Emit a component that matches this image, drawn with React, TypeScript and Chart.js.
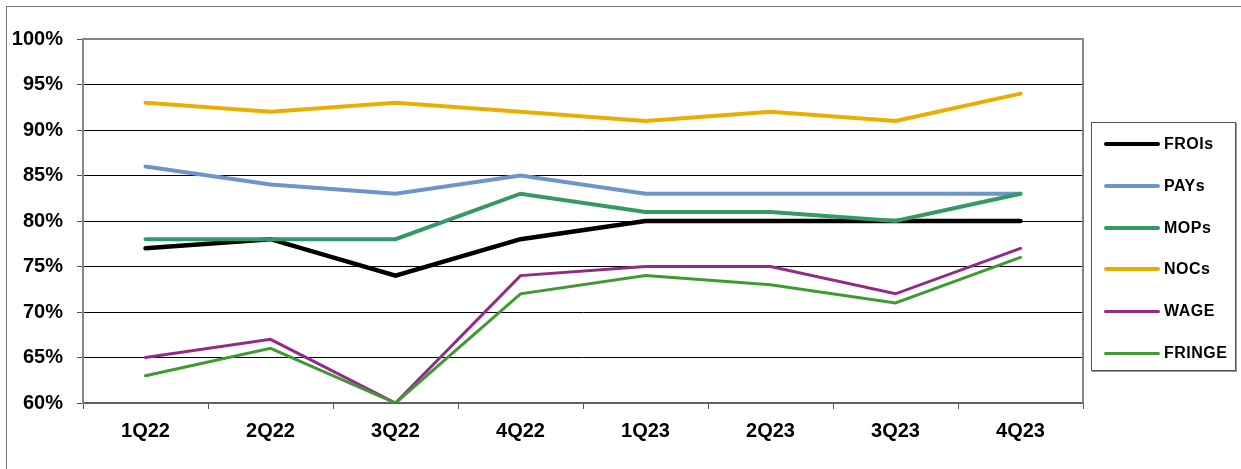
import React, { useEffect, useRef } from "react";
import { Chart, registerables } from "chart.js";

Chart.register(...registerables);

const categories = ["1Q22", "2Q22", "3Q22", "4Q22", "1Q23", "2Q23", "3Q23", "4Q23"];
const seriesNames = ["FROIs", "PAYs", "MOPs", "NOCs", "WAGE", "FRINGE"];
const froisValues = [77, 78, 74, 78, 80, 80, 80, 80];
const paysValues = [86, 84, 83, 85, 83, 83, 83, 83];
const mopsValues = [78, 78, 78, 83, 81, 81, 80, 83];
const nocsValues = [93, 92, 93, 92, 91, 92, 91, 94];
const wageValues = [65, 67, 60, 74, 75, 75, 72, 77];
const fringeValues = [63, 66, 60, 72, 74, 73, 71, 76];
const seriesValues = [froisValues, paysValues, mopsValues, nocsValues, wageValues, fringeValues];
const seriesColors = ["#000000", "#6a96c9", "#339966", "#e8ae00", "#922a88", "#3f9a32"];
const seriesWidths = [4.5, 4, 4, 4, 3, 3];
const yMin = 60;
const yMax = 100;
const yStep = 5;

const FONT = "'Liberation Sans', Arial, sans-serif";

const framePlugin = {
  id: "frame",
  afterDatasetsDraw(chart: any) {
    const { ctx, chartArea } = chart;
    ctx.save();
    ctx.strokeStyle = "#858585";
    ctx.lineWidth = 2;
    ctx.beginPath();
    ctx.moveTo(chartArea.left, chartArea.top);
    ctx.lineTo(chartArea.right, chartArea.top);
    ctx.lineTo(chartArea.right, chartArea.bottom);
    ctx.stroke();
    ctx.restore();
  },
};

export default function App() {
  const canvasRef = useRef<HTMLCanvasElement | null>(null);

  useEffect(() => {
    document.body.style.margin = "0";
    const canvas = canvasRef.current;
    if (!canvas) return;
    const chart = new Chart(canvas, {
      type: "line",
      data: {
        labels: categories,
        datasets: seriesNames.map((name, i) => ({
          label: name,
          data: seriesValues[i],
          borderColor: seriesColors[i],
          backgroundColor: seriesColors[i],
          borderWidth: seriesWidths[i],
          pointRadius: 0,
          pointHoverRadius: 0,
          tension: 0,
          fill: false,
          borderCapStyle: "round",
          borderJoinStyle: "miter",
          order: seriesNames.length - i,
        })),
      },
      options: {
        responsive: false,
        animation: false,
        devicePixelRatio: 1,
        layout: { padding: { left: 0, top: 39, right: 158, bottom: 0 } },
        plugins: {
          legend: { display: false },
          tooltip: { enabled: false },
        },
        scales: {
          x: {
            offset: true,
            grid: {
              display: true,
              drawOnChartArea: false,
              drawTicks: true,
              tickLength: 6,
              offset: true,
              tickColor: "#555555",
            },
            border: { display: true, color: "#606060", width: 2 },
            ticks: {
              color: "#000000",
              padding: 10,
              font: { family: FONT, size: 20, weight: "bold" },
              maxRotation: 0,
            },
            afterFit(scale: any) {
              scale.height = 66;
            },
          },
          y: {
            min: yMin,
            max: yMax,
            grid: {
              color: (ctx: any) => (ctx.tick && ctx.tick.value === yMax ? "rgba(0,0,0,0)" : "#000000"),
              lineWidth: 1,
              drawTicks: true,
              tickLength: 6,
              tickColor: "#555555",
            },
            border: { display: true, color: "#858585", width: 2 },
            ticks: {
              stepSize: yStep,
              color: "#000000",
              padding: 14,
              font: { family: FONT, size: 20, weight: "bold" },
              callback: (v: any) => v + "%",
            },
            afterFit(scale: any) {
              scale.width = 83;
            },
          },
        },
      },
      plugins: [framePlugin],
    });
    return () => chart.destroy();
  }, []);

  return (
    <div style={{ position: "fixed", left: 0, top: 0, width: 1241, height: 469, background: "#fff", overflow: "hidden" }}>
      <div
        style={{
          position: "absolute",
          left: 6,
          top: 6,
          width: 1300,
          height: 500,
          borderLeft: "1px solid #777",
          borderTop: "1px solid #777",
        }}
      />
      <canvas ref={canvasRef} width={1241} height={469} style={{ position: "absolute", left: 0, top: 0, width: 1241, height: 469 }} />
      <div
        style={{
          position: "absolute",
          left: 1091,
          top: 122,
          width: 145,
          height: 249,
          border: "1px solid #555",
          boxShadow: "1px 1px 0 #999",
          background: "#fff",
          boxSizing: "border-box",
          fontFamily: FONT,
        }}
      >
        {seriesNames.map((name, i) => (
          <div
            key={name}
            style={{
              position: "absolute",
              left: 12,
              top: 21 + i * 41.8 - 10,
              height: 20,
              display: "flex",
              alignItems: "center",
            }}
          >
            <div
              style={{
                width: 56,
                height: seriesWidths[i],
                borderRadius: 3,
                background: seriesColors[i],
              }}
            />
            <span style={{ marginLeft: 4, fontSize: 16, fontWeight: "bold", color: "#000", letterSpacing: 0.5 }}>{name}</span>
          </div>
        ))}
      </div>
    </div>
  );
}
